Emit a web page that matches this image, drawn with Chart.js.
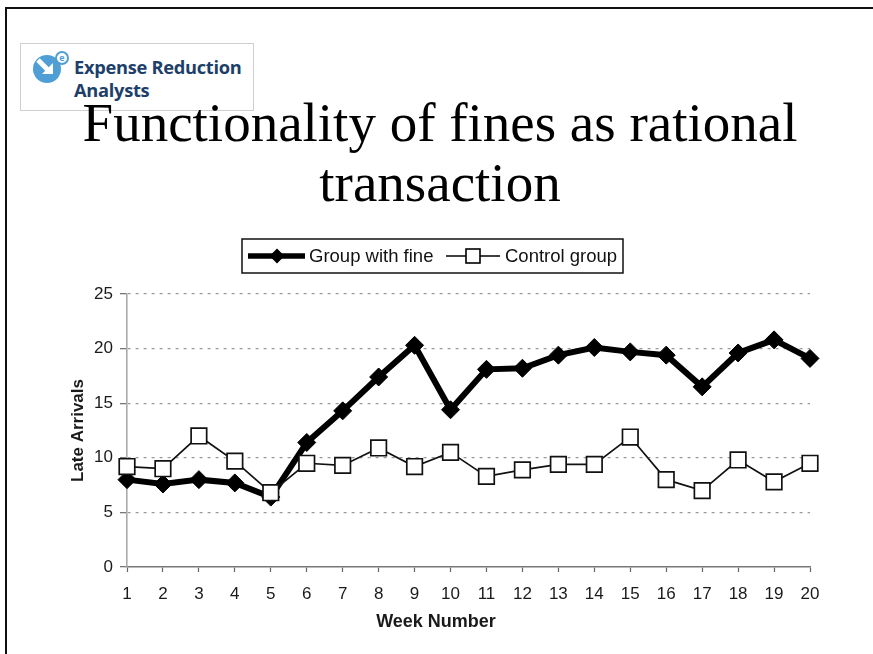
<!DOCTYPE html>
<html>
<head>
<meta charset="utf-8">
<script src="https://cdn.jsdelivr.net/npm/chart.js@4/dist/chart.umd.min.js"></script>
<style>
  html, body { margin: 0; padding: 0; background: #fff; }
  body { width: 873px; height: 654px; position: relative; overflow: hidden; }
  .frame-top { position: absolute; left: 5px; top: 7px; width: 868px; height: 2px; background: #111; }
  .frame-left { position: absolute; left: 5px; top: 7px; width: 2px; height: 647px; background: #111; }
  .logo { position: absolute; left: 20px; top: 43px; width: 232px; height: 66px; border: 1px solid #cfcfcf; background: #fff; }
  .logo svg { position: absolute; left: 12px; top: 6px; }
  .logo .name { position: absolute; left: 53px; top: 11px; font-family: "Open Sans", "Noto Sans", sans-serif; font-weight: 700;
                font-size: 18.3px; line-height: 23px; color: #1d3f6a; letter-spacing: -0.3px; }
  .title { position: absolute; left: 0; width: 880px; top: 93px; text-align: center; font-family: "Liberation Serif", "Times New Roman", serif;
           font-size: 55px; line-height: 60px; color: #000; }
  #chart { position: absolute; left: 0; top: 0; }
</style>
</head>
<body>
<div class="frame-top"></div>
<div class="frame-left"></div>
<div class="logo">
  <svg width="40" height="40" viewBox="0 0 40 40">
    <circle cx="14" cy="19" r="14" fill="#4f9fd6"/>
    <path d="M5 10 L17 22" stroke="#fff" stroke-width="5" fill="none"/>
    <path d="M9 24 L20 24 L20 13 Z" fill="#fff"/>
    <circle cx="29" cy="8" r="6" fill="#fff" stroke="#4f9fd6" stroke-width="2"/>
    <text x="29" y="11" font-size="9" font-family="Open Sans, sans-serif" font-weight="700" fill="#4f9fd6" text-anchor="middle">e</text>
  </svg>
  <div class="name">Expense Reduction<br>Analysts</div>
</div>
<div class="title">Functionality of fines as rational<br>transaction</div>
<canvas id="chart" width="873" height="654"></canvas>
<script>
// Week numbers along the horizontal axis
const weeks = ['1','2','3','4','5','6','7','8','9','10','11','12','13','14','15','16','17','18','19','20'];
// Late arrivals per week
const groupWithFine = [8.0, 7.6, 8.0, 7.7, 6.4, 11.4, 14.3, 17.4, 20.3, 14.4, 18.1, 18.2, 19.4, 20.1, 19.7, 19.4, 16.5, 19.6, 20.8, 19.1];
const controlGroup  = [9.2, 9.0, 12.0, 9.7, 6.8, 9.5, 9.3, 10.9, 9.2, 10.5, 8.3, 8.9, 9.4, 9.4, 11.9, 8.0, 7.0, 9.8, 7.8, 9.5];
const yTicks = [0, 5, 10, 15, 20, 25];
const seriesNames = ['Group with fine', 'Control group'];
const xAxisTitle = 'Week Number';

const fontFamily = '"Liberation Sans", Arial, sans-serif';
const axisFont = { family: fontFamily, size: 17 };
const textColor = '#1a1a1a';

// Boxed legend (line sample with marker, then label) and the x-axis caption
const boxedLegend = {
  id: 'boxedLegend',
  afterDraw(chart) {
    const ctx = chart.ctx;
    const top = 239, h = 34, left = 242, w = 381;
    const cy = top + h / 2;
    ctx.save();
    ctx.strokeStyle = '#111';
    ctx.lineWidth = 1.5;
    ctx.strokeRect(left, top, w, h);
    ctx.font = '18.5px ' + fontFamily;
    ctx.fillStyle = '#111';
    ctx.textBaseline = 'middle';

    // Group with fine
    ctx.strokeStyle = '#000';
    ctx.lineWidth = 5.5;
    ctx.beginPath(); ctx.moveTo(248, cy); ctx.lineTo(305, cy); ctx.stroke();
    ctx.fillStyle = '#000';
    ctx.beginPath();
    ctx.moveTo(277, cy - 7.5); ctx.lineTo(284.5, cy); ctx.lineTo(277, cy + 7.5); ctx.lineTo(269.5, cy);
    ctx.closePath(); ctx.fill();
    ctx.fillStyle = '#111';
    ctx.fillText(seriesNames[0], 309, cy + 1);

    // Control group
    ctx.strokeStyle = '#000';
    ctx.lineWidth = 1.6;
    ctx.beginPath(); ctx.moveTo(446, cy); ctx.lineTo(500, cy); ctx.stroke();
    ctx.fillStyle = '#fff';
    ctx.fillRect(466, cy - 7, 14, 14);
    ctx.strokeRect(466, cy - 7, 14, 14);
    ctx.fillStyle = '#111';
    ctx.fillText(seriesNames[1], 505, cy + 1);

    // x-axis caption
    ctx.font = 'bold 18px ' + fontFamily;
    ctx.fillStyle = textColor;
    ctx.textAlign = 'center';
    ctx.fillText(xAxisTitle, 436, 622);
    ctx.restore();
  }
};

new Chart(document.getElementById('chart'), {
  type: 'line',
  data: {
    labels: weeks,
    datasets: [
      {
        label: seriesNames[1],
        data: controlGroup,
        borderColor: '#111',
        borderWidth: 1.7,
        pointStyle: 'rect',
        pointRadius: 11,
        pointBorderWidth: 1.7,
        pointBackgroundColor: '#fff',
        pointBorderColor: '#111',
        tension: 0,
        order: 1
      },
      {
        label: seriesNames[0],
        data: groupWithFine,
        borderColor: '#000',
        borderWidth: 6,
        pointStyle: 'rectRot',
        pointRadius: 9,
        pointBorderWidth: 1,
        pointBackgroundColor: '#000',
        pointBorderColor: '#000',
        tension: 0,
        order: 2
      }
    ]
  },
  options: {
    responsive: false,
    animation: false,
    layout: { padding: { top: 294, right: 63, left: 0, bottom: 0 } },
    plugins: {
      legend: { display: false },
      tooltip: { enabled: false }
    },
    scales: {
      x: {
        offset: false,
        afterFit(scale) { scale.height = 87; },
        grid: { display: true, drawOnChartArea: false, drawTicks: true, tickLength: 5, tickColor: '#666', tickWidth: 1.2 },
        border: { display: true, color: '#777', width: 1.6 },
        ticks: { color: textColor, font: axisFont, padding: 12, maxRotation: 0, autoSkip: false },
        title: { display: false }
      },
      y: {
        min: 0, max: 25,
        afterFit(scale) { scale.width = 127; },
        afterBuildTicks(scale) { scale.ticks = yTicks.map(v => ({ value: v })); },
        grid: {
          display: true, drawOnChartArea: true, drawTicks: true,
          color: (c) => c.tick && c.tick.value === 0 ? 'rgba(0,0,0,0)' : '#9a9a9a',
          lineWidth: 1.3, tickLength: 7, tickColor: '#777', tickWidth: 1.3, tickBorderDash: []
        },
        border: { display: true, color: '#aaa', width: 1.6, dash: [3, 5] },
        ticks: { color: textColor, font: axisFont, padding: 7 },
        title: {
          display: true, text: 'Late Arrivals', color: textColor,
          font: { family: fontFamily, size: 17, weight: 'bold' },
          padding: { top: 68, bottom: 0 }
        }
      }
    }
  },
  plugins: [boxedLegend]
});
</script>
</body>
</html>
